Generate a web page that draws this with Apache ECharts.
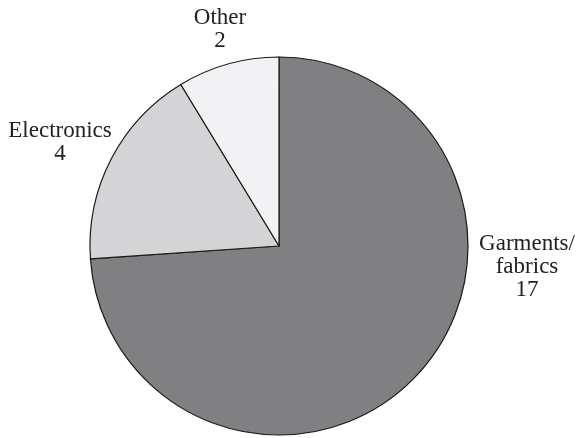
<!DOCTYPE html>
<html>
<head>
<meta charset="utf-8">
<script src="https://cdn.jsdelivr.net/npm/echarts@6/dist/echarts.min.js"></script>
<style>
  html, body { margin: 0; padding: 0; background: #ffffff; }
  #chart { width: 584px; height: 438px; }
</style>
</head>
<body>
<div id="chart"></div>
<script>
// Sectors, listed clockwise from 12 o'clock
const categories = ['Garments/\nfabrics', 'Electronics', 'Other'];
const values = [17, 4, 2];
const colors = ['#808083', '#d4d4d6', '#f2f2f4'];

// Label anchor points (label centres) for each sector
const labelSpots = [
  { x: 527, y: 267 },
  { x: 60, y: 142 },
  { x: 220, y: 29 }
];

const chart = echarts.init(document.getElementById('chart'), null, { renderer: 'canvas' });

chart.setOption({
  animation: false,
  backgroundColor: '#ffffff',
  series: [{
    type: 'pie',
    center: [279, 246],
    radius: [0, 189],
    startAngle: 90,
    clockwise: true,
    avoidLabelOverlap: false,
    data: categories.map((name, i) => ({
      name: name,
      value: values[i],
      itemStyle: { color: colors[i] }
    })),
    itemStyle: { borderColor: '#1a1a1a', borderWidth: 1.2 },
    label: {
      show: true,
      position: 'outside',
      formatter: p => p.name + '\n' + p.value,
      fontFamily: 'Liberation Serif, Times New Roman, serif',
      fontSize: 23,
      lineHeight: 23,
      color: '#222222',
      align: 'center'
    },
    labelLine: { show: false },
    labelLayout: params => {
      const s = labelSpots[params.dataIndex];
      return { x: s.x, y: s.y, align: 'center', verticalAlign: 'middle' };
    },
    emphasis: { disabled: true }
  }]
});
</script>
</body>
</html>
